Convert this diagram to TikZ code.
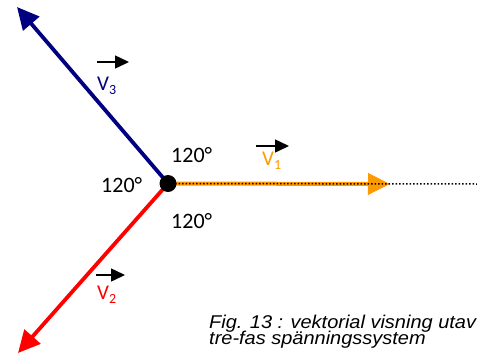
\documentclass[tikz,border=0pt]{standalone}
\usepackage{fontspec}
\setmainfont{Carlito}
\newfontfamily\capfont[FakeStretch=1.08]{Liberation Sans}
\usetikzlibrary{arrows.meta}
\definecolor{navyv}{RGB}{0,0,128}
\definecolor{orangev}{RGB}{255,153,0}
\definecolor{redv}{RGB}{255,0,0}
\tikzset{
  phasor/.style={line width=3.8pt, -{Triangle[length=22pt,width=21pt]}},
  vecmark/.style={line width=1.5pt, -{Triangle[length=14pt,width=13pt]}},
  anglelbl/.style={inner sep=0pt, anchor=base west, font=\fontsize{22}{22}\selectfont},
  vlbl/.style={inner sep=0pt, anchor=base west, font=\fontsize{21}{21}\selectfont},
  caplbl/.style={inner sep=0pt, anchor=base west, font=\capfont\itshape\fontsize{18.5}{18.5}\selectfont}
}
\newcommand{\vsub}[1]{V\raisebox{-4pt}{\fontsize{14}{14}\selectfont #1}}
\begin{document}
\begin{tikzpicture}[x=1pt,y=-1pt]
\useasboundingbox (0,0) rectangle (477,354);
\coordinate (O) at (168,183.5);
\coordinate (T3) at (17,7);
\coordinate (T2) at (18,353);
\coordinate (T1) at (390,184);
\coordinate (E) at (477,184);
\draw[phasor, navyv] (O) -- (T3);
\draw[phasor, redv] (O) -- (T2);
\draw[phasor, orangev, line width=4pt] (O) -- (T1);
\draw[black, line width=1.5pt, dotted] (O) -- (E);
\fill[black] (O) circle (8.5pt);
% angle labels
\node[anglelbl] (a1) at (171,162) {120°};
\node[anglelbl] (a2) at (101,192) {120°};
\node[anglelbl] (a3) at (171,228) {120°};
% vector labels
\node[vlbl, text=navyv] (v3) at (97,90) {\vsub{3}};
\node[vlbl, text=orangev] (v1) at (262,165) {\vsub{1}};
\node[vlbl, text=redv] (v2) at (97,299) {\vsub{2}};
\coordinate (m3a) at (97,62); \coordinate (m3b) at (129,62);
\coordinate (m1a) at (256,146); \coordinate (m1b) at (289,146);
\coordinate (m2a) at (96,275); \coordinate (m2b) at (125,275);
\draw[vecmark] (m3a) -- (m3b);
\draw[vecmark] (m1a) -- (m1b);
\draw[vecmark] (m2a) -- (m2b);
% caption
\node[caplbl] (c1) at (209,328.5) {Fig. 13 : vektorial visning utav};
\node[caplbl] (c2) at (209,344) {tre-fas spänningssystem};
\end{tikzpicture}
\end{document}
